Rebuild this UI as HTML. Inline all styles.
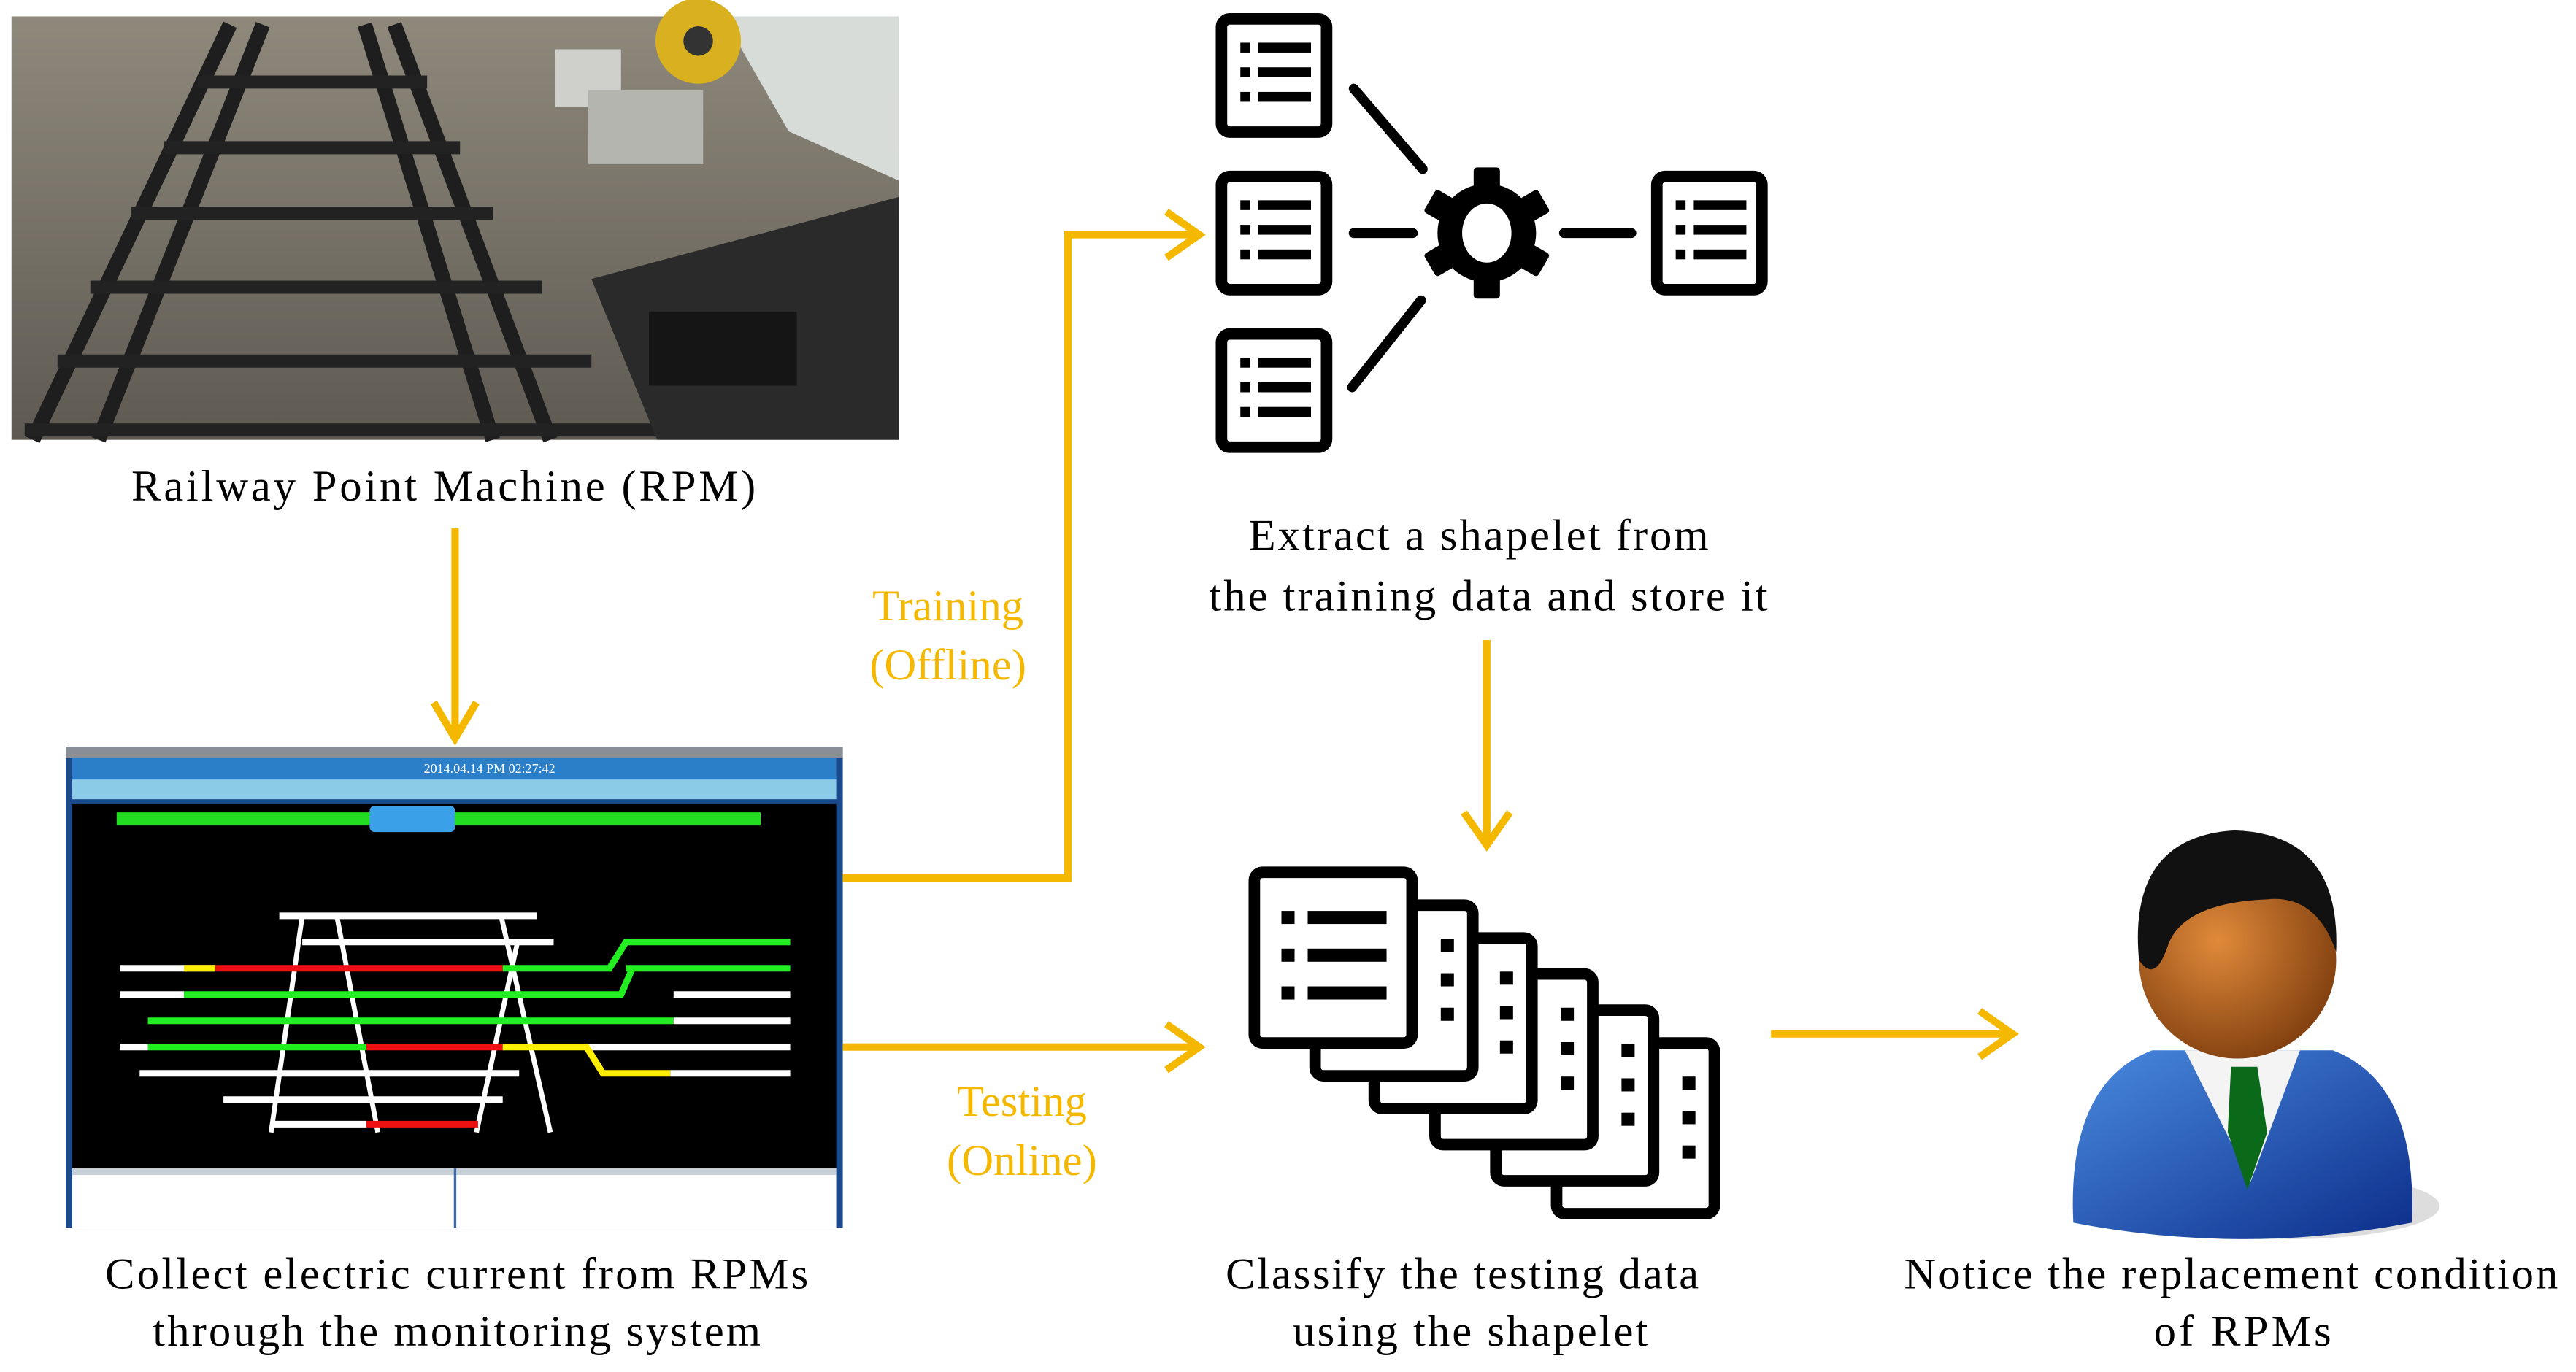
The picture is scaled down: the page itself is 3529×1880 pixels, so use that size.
<!DOCTYPE html>
<html><head><meta charset="utf-8"><style>
html,body{margin:0;padding:0;background:#fff;}
svg{display:block;}
text{font-family:"Liberation Serif",serif;}
</style></head><body>
<svg width="3529" height="1880" viewBox="0 0 1568 836" preserveAspectRatio="none" xmlns="http://www.w3.org/2000/svg">
<defs>
<linearGradient id="gr" x1="0" y1="0" x2="0" y2="1"><stop offset="0" stop-color="#8f897c"/><stop offset="1" stop-color="#5e5a52"/></linearGradient>
<radialGradient id="face" cx="0.4" cy="0.4" r="0.7"><stop offset="0" stop-color="#e08a3a"/><stop offset="1" stop-color="#7a3a0c"/></radialGradient>
<linearGradient id="suit" x1="0" y1="0" x2="1" y2="1"><stop offset="0" stop-color="#4a8ae0"/><stop offset="1" stop-color="#0c2e8a"/></linearGradient>
<g id="doc">
<rect x="3.5" y="3.5" width="64" height="69" rx="5" fill="#fff" stroke="#000" stroke-width="7"/>
<rect x="15" y="18" width="6" height="6"/><rect x="26" y="18" width="32" height="6"/>
<rect x="15" y="33" width="6" height="6"/><rect x="26" y="33" width="32" height="6"/>
<rect x="15" y="48" width="6" height="6"/><rect x="26" y="48" width="32" height="6"/>
</g>
<g id="sdoc">
<rect x="3.5" y="3.5" width="96" height="104" rx="5" fill="#fff" stroke="#000" stroke-width="7"/>
<rect x="80" y="24" width="8" height="8"/><rect x="80" y="45" width="8" height="8"/><rect x="80" y="66" width="8" height="8"/>
</g>
</defs>

<!-- photo -->
<rect x="7" y="10" width="540" height="258" fill="url(#gr)"/>
<polygon points="440,10 547,10 547,110 480,80" fill="#d8dcd8"/>
<circle cx="425" cy="25" r="26" fill="#d8b020"/><circle cx="425" cy="25" r="9" fill="#333"/>
<rect x="338" y="30" width="40" height="35" fill="#cfcfcc"/>
<rect x="358" y="55" width="70" height="45" fill="#b5b5b0"/>
<g stroke="#1e1e1e" stroke-width="9" fill="none">
<line x1="140" y1="15" x2="20" y2="268"/><line x1="160" y1="15" x2="60" y2="268"/>
<line x1="222" y1="15" x2="300" y2="268"/><line x1="240" y1="15" x2="335" y2="268"/>
</g>
<g stroke="#222" stroke-width="8">
<line x1="120" y1="50" x2="260" y2="50"/><line x1="100" y1="90" x2="280" y2="90"/><line x1="80" y1="130" x2="300" y2="130"/>
<line x1="55" y1="175" x2="330" y2="175"/><line x1="35" y1="220" x2="360" y2="220"/><line x1="15" y1="262" x2="400" y2="262"/>
</g>
<polygon points="360,170 547,120 547,268 400,268" fill="#2a2a2a"/>
<rect x="395" y="190" width="90" height="45" fill="#151515"/>

<text x="270" y="305" font-size="27" text-anchor="middle" textLength="380">Railway  Point Machine  (RPM)</text>

<!-- monitor screenshot -->
<rect x="40" y="455" width="473" height="293" fill="#1a4a8c"/>
<rect x="40" y="455" width="473" height="7" fill="#8a8f96"/>
<rect x="44" y="462" width="465" height="20" fill="#2a7fc8"/>
<rect x="44" y="475" width="465" height="12" fill="#8ccbe8"/>
<text x="258" y="471" font-size="8" fill="#fff">2014.04.14 PM 02:27:42</text>
<rect x="44" y="490" width="465" height="222" fill="#000"/>
<rect x="71" y="495" width="392" height="8" fill="#22dd22"/>
<rect x="225" y="491" width="52" height="16" rx="3" fill="#3aa0e8"/>
<rect x="44" y="712" width="465" height="36" fill="#fff"/>
<rect x="44" y="712" width="465" height="4" fill="#c8d0d8"/>
<line x1="277" y1="712" x2="277" y2="748" stroke="#3a6ab0" stroke-width="1.5"/>
<g stroke-width="4" fill="none">
<path d="M170 558 H327 M184 574 H337 M85 654 H316 M136 670 H306 M165 685 H223" stroke="#fff"/>
<path d="M184 558 L165 690 M205 558 L230 690 M305 558 L335 690 M315 574 L290 690" stroke="#fff" stroke-width="3"/>
<path d="M73 590 H131 M73 606 H112 M73 638 H90 M410 606 H481 M410 622 H481 M357 638 H481 M408 654 H481" stroke="#fff"/>
<path d="M131 590 H306" stroke="#ee1111"/>
<path d="M306 590 H371 L381 574 H481 M381 590 H481" stroke="#22ee22"/>
<path d="M112 606 H378 L385 590 M90 622 H410 M90 638 H223" stroke="#22ee22"/>
<path d="M223 638 H306 M223 685 H291" stroke="#ee1111"/>
<path d="M306 638 H357 L367 654 H408 M112 590 H131" stroke="#ffee00"/>
</g>

<text x="278" y="785" font-size="27" text-anchor="middle" textLength="428">Collect electric current from RPMs</text>
<text x="278" y="820" font-size="27" text-anchor="middle" textLength="370">through the monitoring system</text>

<!-- arrows -->
<g stroke="#f5b800" stroke-width="4.5" fill="none" stroke-linejoin="miter">
<line x1="277" y1="322" x2="277" y2="450"/><polyline points="264,428 277,450 290,428"/>
<polyline points="513,535 650,535 650,143 730,143"/><polyline points="710,129 730,143 710,157"/>
<line x1="513" y1="638" x2="730" y2="638"/><polyline points="710,624 730,638 710,652"/>
<line x1="905" y1="390" x2="905" y2="515"/><polyline points="891,495 905,515 919,495"/>
<line x1="1078" y1="630" x2="1225" y2="630"/><polyline points="1205,616 1225,630 1205,644"/>
</g>
<g fill="#f5b800" font-size="27" text-anchor="middle">
<text x="577" y="378">Training</text><text x="577" y="414">(Offline)</text>
<text x="622" y="680">Testing</text><text x="622" y="716">(Online)</text>
</g>

<!-- shapelet extraction icons -->
<use href="#doc" x="740" y="8"/>
<use href="#doc" x="740" y="104"/>
<use href="#doc" x="740" y="200"/>
<use href="#doc" x="1005" y="104"/>
<g stroke="#000" stroke-width="6" stroke-linecap="round">
<line x1="824" y1="54" x2="866" y2="103"/><line x1="823" y1="236" x2="865" y2="183"/>
<line x1="824" y1="142" x2="860" y2="142"/><line x1="952" y1="142" x2="993" y2="142"/>
</g>
<g transform="translate(905,142)">
<g fill="#000">
<rect x="-8" y="-40" width="16" height="80" rx="2"/>
<rect x="-8" y="-40" width="16" height="80" rx="2" transform="rotate(60)"/>
<rect x="-8" y="-40" width="16" height="80" rx="2" transform="rotate(120)"/>
<circle r="30"/>
</g>
<ellipse rx="15" ry="18" fill="#fff"/>
</g>
<text x="900" y="335" font-size="27" text-anchor="middle" textLength="280">Extract a shapelet from</text>
<text x="906" y="372" font-size="27" text-anchor="middle" textLength="340">the training data and store it</text>

<!-- stacked docs -->
<use href="#sdoc" x="944" y="632"/>
<use href="#sdoc" x="907" y="612"/>
<use href="#sdoc" x="870" y="590"/>
<use href="#sdoc" x="833" y="568"/>
<use href="#sdoc" x="797" y="548"/>
<g transform="translate(760,528)">
<rect x="3.5" y="3.5" width="96" height="104" rx="5" fill="#fff" stroke="#000" stroke-width="7"/>
<rect x="20" y="27" width="8" height="8"/><rect x="36" y="27" width="48" height="8"/>
<rect x="20" y="50" width="8" height="8"/><rect x="36" y="50" width="48" height="8"/>
<rect x="20" y="73" width="8" height="8"/><rect x="36" y="73" width="48" height="8"/>
</g>
<text x="890" y="785" font-size="27" text-anchor="middle" textLength="288">Classify the testing data</text>
<text x="895" y="820" font-size="27" text-anchor="middle" textLength="216">using the shapelet</text>

<!-- person -->
<ellipse cx="1395" cy="735" rx="90" ry="20" fill="#ddd"/>
<path d="M1262 745 Q1258 660 1310 640 L1420 640 Q1472 660 1468 745 Q1365 765 1262 745 Z" fill="url(#suit)"/>
<polygon points="1330,640 1400,640 1370,720" fill="#f4f4f4"/>
<polygon points="1358,650 1374,650 1380,690 1368,725 1356,690" fill="#0a6a1a"/>
<circle cx="1362" cy="585" r="60" fill="url(#face)"/>
<path d="M1302 585 Q1295 510 1360 506 Q1425 508 1422 580 Q1410 545 1380 548 Q1330 550 1320 575 Q1312 600 1302 585 Z" fill="#111"/>
<text x="1358" y="785" font-size="27" text-anchor="middle" textLength="398">Notice the replacement condition</text>
<text x="1365" y="820" font-size="27" text-anchor="middle" textLength="108">of RPMs</text>
</svg>
</body></html>
